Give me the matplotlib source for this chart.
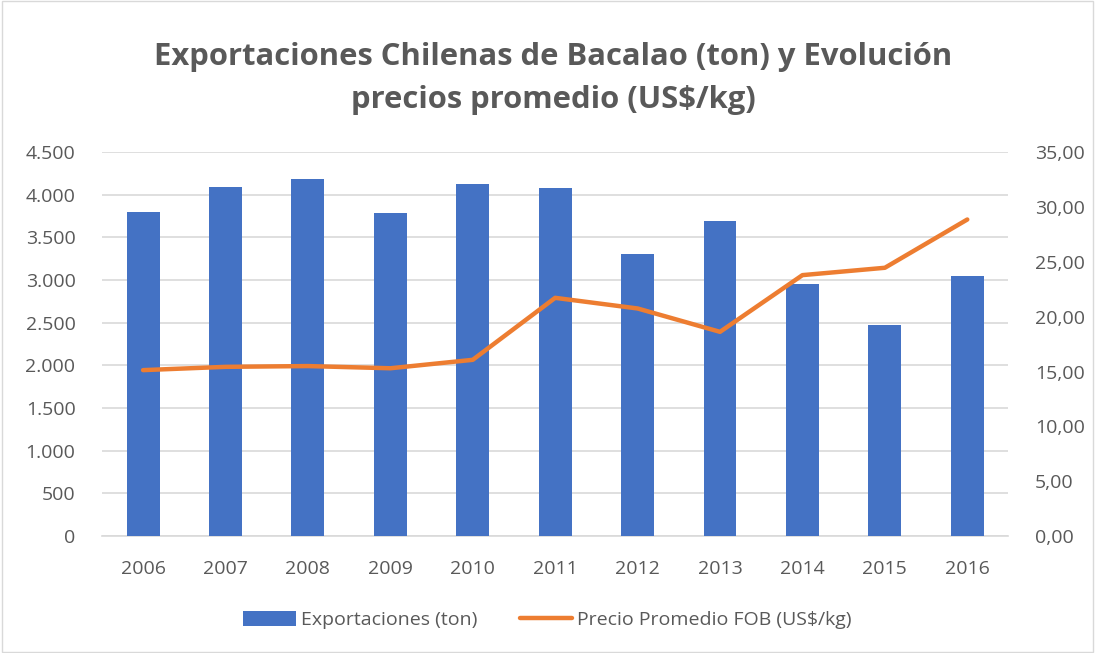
import numpy as np
import matplotlib.pyplot as plt
from matplotlib.ticker import FuncFormatter

years = ['2006', '2007', '2008', '2009', '2010', '2011', '2012', '2013', '2014', '2015', '2016']
exportaciones = [3800, 4090, 4190, 3790, 4130, 4075, 3310, 3690, 2960, 2470, 3050]
precio = [15.13, 15.43, 15.5, 15.3, 16.07, 21.72, 20.75, 18.62, 23.79, 24.46, 28.86]

gris = '#595959'
plt.rcParams['font.family'] = ['Open Sans', 'DejaVu Sans']

fig = plt.figure(figsize=(10.95, 6.53), dpi=100)
# marco gris claro alrededor
fig.patches.append(plt.Rectangle((0.002, 0.002), 0.996, 0.996, transform=fig.transFigure,
                                 fill=False, edgecolor='#d9d9d9', linewidth=1))
ax = fig.add_axes([0.093, 0.179, 0.828, 0.588])
ax2 = ax.twinx()

x = np.arange(len(years))
b = ax.bar(x, exportaciones, width=0.4, color='#4472C4', zorder=3, label='Exportaciones (ton)')
l, = ax2.plot(x, precio, color='#ED7D31', linewidth=3.2, solid_capstyle='round', zorder=4,
              label='Precio Promedio FOB (US$/kg)')

ax.set_xlim(-0.5, len(years) - 0.5)
ax.set_ylim(0, 4500)
ax.set_yticks(np.arange(0, 4501, 500))
ax2.set_ylim(0, 35)
ax2.set_yticks(np.arange(0, 35.1, 5))
ax.yaxis.set_major_formatter(FuncFormatter(lambda v, p: f'{int(v):,}'.replace(',', '.')))
ax2.yaxis.set_major_formatter(FuncFormatter(lambda v, p: f'{v:.2f}'.replace('.', ',')))
ax.set_xticks(x)
ax.set_xticklabels(years)

ax.grid(axis='y', color='#d9d9d9', linewidth=1.2, zorder=0)
ax.set_axisbelow(True)
for a in (ax, ax2):
    for s in a.spines.values():
        s.set_visible(False)
    a.tick_params(length=0, labelsize=14, colors=gris)
ax.spines['bottom'].set_visible(True)
ax.spines['bottom'].set_color('#d9d9d9')
ax.spines['bottom'].set_linewidth(1.2)
ax.tick_params(axis='y', pad=19)
ax2.tick_params(axis='y', pad=19)
ax.tick_params(axis='x', pad=17)

fig.text(0.505, 0.88, 'Exportaciones Chilenas de Bacalao (ton) y Evolución\nprecios promedio (US$/kg)',
         ha='center', va='center', fontsize=22.3, fontweight='bold', color=gris, linespacing=1.55)

fig.legend(handles=[b, l], loc='center', bbox_to_anchor=(0.50, 0.05), ncol=2, frameon=False,
           fontsize=14, labelcolor=gris, handlelength=2.7, handleheight=0.75, columnspacing=2.2,
           handletextpad=0.25)

fig.savefig('out.png', dpi=100)
